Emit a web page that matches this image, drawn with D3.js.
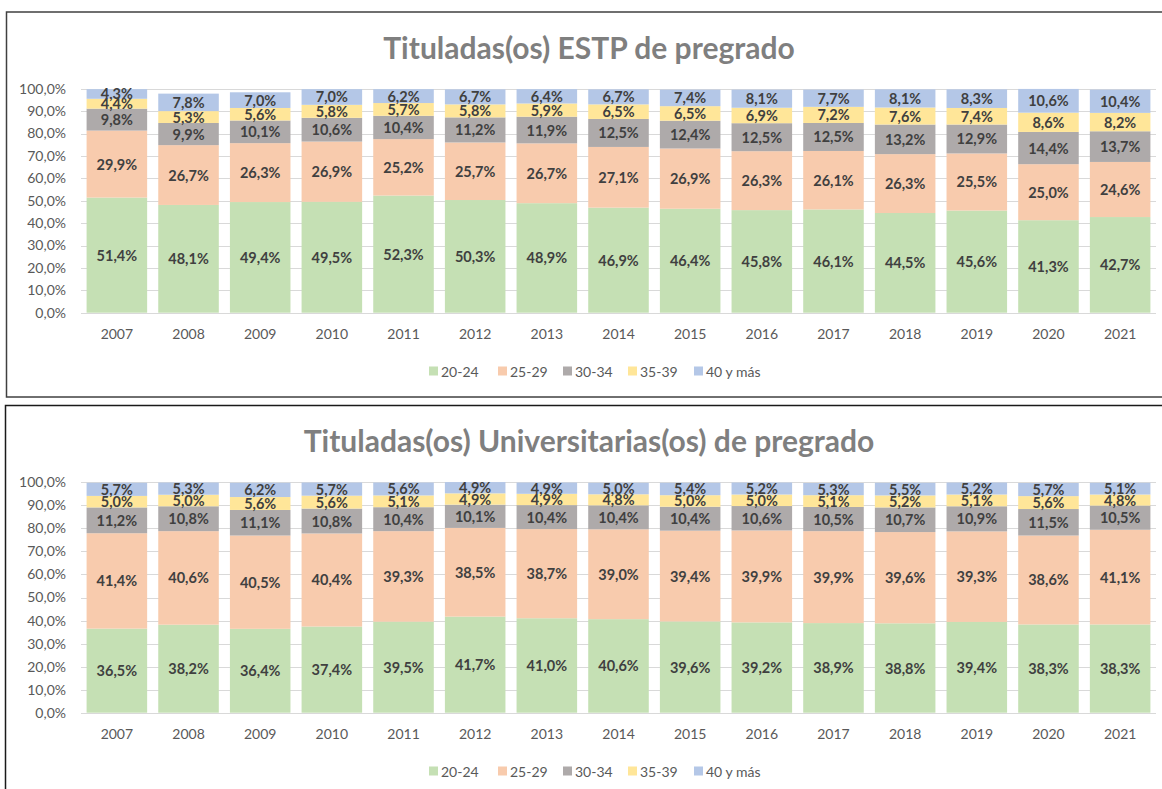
<!DOCTYPE html>
<html>
<head>
<meta charset="utf-8">
<script src="https://cdn.jsdelivr.net/npm/d3@7"></script>
<style>
  html, body { margin: 0; padding: 0; background: #fff; }
  svg { display: block; }
</style>
</head>
<body>
<svg id="chart" width="1162" height="789"></svg>
<script>
// ---------------- DATA ----------------
const years = ["2007","2008","2009","2010","2011","2012","2013","2014","2015","2016","2017","2018","2019","2020","2021"];
const seriesNames = ["20-24","25-29","30-34","35-39","40 y más"];
const yTicks = [0,10,20,30,40,50,60,70,80,90,100];

const titleESTP = "Tituladas(os) ESTP de pregrado";
const estp_20_24 = [51.4,48.1,49.4,49.5,52.3,50.3,48.9,46.9,46.4,45.8,46.1,44.5,45.6,41.3,42.7];
const estp_25_29 = [29.9,26.7,26.3,26.9,25.2,25.7,26.7,27.1,26.9,26.3,26.1,26.3,25.5,25.0,24.6];
const estp_30_34 = [9.8,9.9,10.1,10.6,10.4,11.2,11.9,12.5,12.4,12.5,12.5,13.2,12.9,14.4,13.7];
const estp_35_39 = [4.4,5.3,5.6,5.8,5.7,5.8,5.9,6.5,6.5,6.9,7.2,7.6,7.4,8.6,8.2];
const estp_40mas = [4.3,7.8,7.0,7.0,6.2,6.7,6.4,6.7,7.4,8.1,7.7,8.1,8.3,10.6,10.4];

const titleUniv = "Tituladas(os) Universitarias(os) de pregrado";
const univ_20_24 = [36.5,38.2,36.4,37.4,39.5,41.7,41.0,40.6,39.6,39.2,38.9,38.8,39.4,38.3,38.3];
const univ_25_29 = [41.4,40.6,40.5,40.4,39.3,38.5,38.7,39.0,39.4,39.9,39.9,39.6,39.3,38.6,41.1];
const univ_30_34 = [11.2,10.8,11.1,10.8,10.4,10.1,10.4,10.4,10.4,10.6,10.5,10.7,10.9,11.5,10.5];
const univ_35_39 = [5.0,5.0,5.6,5.6,5.1,4.9,4.9,4.8,5.0,5.0,5.1,5.2,5.1,5.6,4.8];
const univ_40mas = [5.7,5.3,6.2,5.7,5.6,4.9,4.9,5.0,5.4,5.2,5.3,5.5,5.2,5.7,5.1];

// ---------------- STYLE ----------------
const colors = ["#C5E0B4","#F8CBAD","#AEAAAA","#FFE699","#B4C7E7"];
const FONT = "Lato, 'Open Sans', sans-serif";
const fmt = v => v.toFixed(1).replace(".", ",") + "%";

const svg = d3.select("#chart");
svg.append("rect").attr("width",1162).attr("height",789).attr("fill","#fff");

function buildRows(arrs) {
  return years.map((y, i) => {
    const row = { year: y };
    seriesNames.forEach((s, k) => row[s] = arrs[k][i]);
    return row;
  });
}

function drawChart(cfg) {
  const g = svg.append("g");
  // frame
  g.append("rect")
    .attr("x", cfg.box.x).attr("y", cfg.box.y)
    .attr("width", cfg.box.w).attr("height", cfg.box.h)
    .attr("fill", "#fff").attr("stroke", cfg.box.stroke).attr("stroke-width", 1.5);

  const x = d3.scaleBand().domain(years).range([81, 1156]).paddingInner(0.155).paddingOuter(0.078);
  const y = d3.scaleLinear().domain([0, 100]).range([cfg.y0, cfg.y100]);

  // title
  g.append("text").attr("x", 589).attr("y", cfg.titleY)
    .attr("text-anchor","middle").attr("dominant-baseline","central")
    .attr("font-family", FONT).attr("font-weight","bold").attr("font-size", 30)
    .attr("fill","#7F7F7F").text(cfg.title);

  // gridlines
  g.append("g").selectAll("line").data(yTicks).join("line")
    .attr("x1", 81).attr("x2", 1156)
    .attr("y1", d => Math.round(y(d)) + 0.5).attr("y2", d => Math.round(y(d)) + 0.5)
    .attr("stroke", "#D9D9D9").attr("stroke-width", 1);

  // y axis labels
  const yAxis = d3.axisLeft(y).tickValues(yTicks).tickSize(0).tickPadding(0)
    .tickFormat(d => d.toFixed(1).replace(".", ",") + "%");
  const ya = g.append("g").attr("transform", "translate(66,0)").call(yAxis);
  ya.select(".domain").remove();
  ya.selectAll("text").attr("font-family", FONT).attr("font-size", 14).attr("fill", "#595959");

  // x axis labels
  const xAxis = d3.axisBottom(x).tickSize(0).tickPadding(0);
  const xa = g.append("g").attr("transform", `translate(0,${cfg.xLabelY})`).call(xAxis);
  xa.select(".domain").remove();
  xa.selectAll("text").attr("font-family", FONT).attr("font-size", 14).attr("fill", "#595959")
    .attr("dy", null).attr("dominant-baseline", "central");

  // stacked bars
  const rows = buildRows(cfg.data);
  const stack = d3.stack().keys(seriesNames)(rows);
  const layers = g.append("g").selectAll("g").data(stack).join("g")
    .attr("fill", (d, i) => colors[i]);
  layers.selectAll("rect").data(d => d).join("rect")
    .attr("x", d => x(d.data.year)).attr("width", x.bandwidth())
    .attr("y", d => y(d[1])).attr("height", d => y(d[0]) - y(d[1]));

  // data labels
  const lbl = g.append("g");
  stack.forEach((layer, k) => {
    lbl.selectAll(null).data(layer).join("text")
      .attr("x", d => x(d.data.year) + x.bandwidth() / 2)
      .attr("y", d => y((d[0] + d[1]) / 2))
      .attr("text-anchor", "middle").attr("dominant-baseline", "central")
      .attr("font-family", FONT).attr("font-weight", "bold").attr("font-size", 14.5)
      .attr("fill", "#404040")
      .text(d => fmt(d.data[seriesNames[k]]));
  });

  // legend
  const legendX = [429, 498, 563, 628, 694];
  const leg = g.append("g");
  seriesNames.forEach((s, i) => {
    leg.append("rect").attr("x", legendX[i]).attr("y", cfg.legendY - 4.5)
      .attr("width", 9).attr("height", 9).attr("fill", colors[i]);
    leg.append("text").attr("x", legendX[i] + 12).attr("y", cfg.legendY)
      .attr("dominant-baseline", "central")
      .attr("font-family", FONT).attr("font-size", 14).attr("fill", "#595959").text(s);
  });
}

drawChart({
  title: titleESTP,
  data: [estp_20_24, estp_25_29, estp_30_34, estp_35_39, estp_40mas],
  box: { x: 6.5, y: 12, w: 1170, h: 385, stroke: "#404040" },
  titleY: 47, y0: 312.7, y100: 88.7, xLabelY: 333, legendY: 371
});

drawChart({
  title: titleUniv,
  data: [univ_20_24, univ_25_29, univ_30_34, univ_35_39, univ_40mas],
  box: { x: 5.5, y: 405.5, w: 1170, h: 400, stroke: "#1a1a1a" },
  titleY: 440, y0: 712.7, y100: 482.3, xLabelY: 733, legendY: 771
});
</script>
</body>
</html>
